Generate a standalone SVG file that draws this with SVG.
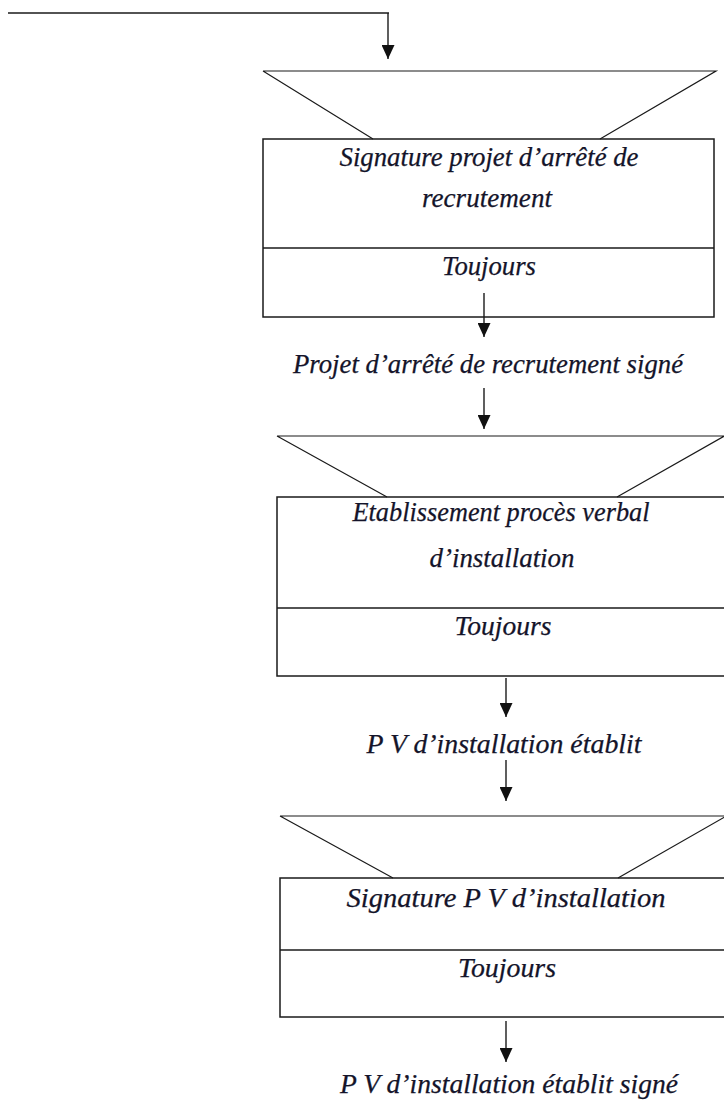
<svg xmlns="http://www.w3.org/2000/svg" width="724" height="1106" viewBox="0 0 724 1106">
  <style>
    .shape { fill: none; stroke: #1a1a1a; stroke-width: 1.5; }
    .thin { fill: none; stroke: #1a1a1a; stroke-width: 1.2; }
    .conn { fill: none; stroke: #1a1a1a; stroke-width: 1.4; }
    .lbl { font-family: "Liberation Serif", "Times New Roman", serif; font-style: italic; font-size: 27px; fill: #14142a; stroke: #14142a; stroke-width: 0.25; text-anchor: middle; }
  </style>
  <defs>
    <marker id="arrow" viewBox="0 0 14 13" refX="14" refY="6.5" markerWidth="14" markerHeight="13" markerUnits="userSpaceOnUse" orient="auto">
      <path d="M0,0 L14,6.5 L0,13 z" fill="#111"/>
    </marker>
  </defs>
  <rect width="724" height="1106" fill="#ffffff"/>

  <!-- step 1: signature of the recruitment order draft -->
  <g id="step-signature-projet">
    <path class="thin" d="M263,71 L716,71 L600,139 M263,71 L373,139"/>
    <rect class="shape" x="263" y="139" width="451" height="178"/>
    <line class="shape" x1="263" y1="248" x2="714" y2="248"/>
    <text class="lbl" x="489" y="166" textLength="299" lengthAdjust="spacingAndGlyphs">Signature projet d’arrêté de</text>
    <text class="lbl" x="487" y="207" textLength="130" lengthAdjust="spacingAndGlyphs">recrutement</text>
    <text class="lbl" x="489" y="275" textLength="94" lengthAdjust="spacingAndGlyphs">Toujours</text>
  </g>

  <!-- intermediate output -->
  <g id="out-projet-signe">
    <text class="lbl" x="488" y="373" textLength="390" lengthAdjust="spacingAndGlyphs">Projet d’arrêté de recrutement signé</text>
  </g>

  <!-- step 2: drawing up the installation report -->
  <g id="step-etablissement-pv">
    <path class="thin" d="M277,436 L730,436 M277,436 L387,497 M617,497 L728,434"/>
    <rect class="shape" x="277" y="497" width="460" height="179"/>
    <line class="shape" x1="277" y1="608" x2="730" y2="608"/>
    <text class="lbl" x="501" y="521" textLength="297" lengthAdjust="spacingAndGlyphs">Etablissement procès verbal</text>
    <text class="lbl" x="502" y="567" textLength="145" lengthAdjust="spacingAndGlyphs">d’installation</text>
    <text class="lbl" x="503" y="635" textLength="97" lengthAdjust="spacingAndGlyphs">Toujours</text>
  </g>

  <g id="out-pv-etabli">
    <text class="lbl" x="504" y="753" textLength="275" lengthAdjust="spacingAndGlyphs">P V d’installation établit</text>
  </g>

  <!-- step 3: signature of the installation report -->
  <g id="step-signature-pv">
    <path class="thin" d="M280,816 L730,816 M280,816 L393,878 M618,878 L730,814"/>
    <rect class="shape" x="280" y="878" width="460" height="139"/>
    <line class="shape" x1="280" y1="950" x2="730" y2="950"/>
    <text class="lbl" x="506" y="907" textLength="319" lengthAdjust="spacingAndGlyphs">Signature  P V d’installation</text>
    <text class="lbl" x="507" y="977" textLength="98" lengthAdjust="spacingAndGlyphs">Toujours</text>
  </g>

  <g id="out-pv-signe">
    <text class="lbl" x="509" y="1093" textLength="338" lengthAdjust="spacingAndGlyphs">P V d’installation établit signé</text>
  </g>

  <!-- connectors -->
  <g id="connectors">
    <line class="conn" x1="8" y1="13" x2="389" y2="13"/>
    <line class="conn" x1="388" y1="13" x2="388" y2="59" marker-end="url(#arrow)"/>
    <line class="conn" x1="484" y1="293" x2="484" y2="337" marker-end="url(#arrow)"/>
    <line class="conn" x1="484" y1="388" x2="484" y2="429" marker-end="url(#arrow)"/>
    <line class="conn" x1="506" y1="678" x2="506" y2="717" marker-end="url(#arrow)"/>
    <line class="conn" x1="506" y1="760" x2="506" y2="801" marker-end="url(#arrow)"/>
    <line class="conn" x1="506" y1="1021" x2="506" y2="1062" marker-end="url(#arrow)"/>
  </g>
</svg>
